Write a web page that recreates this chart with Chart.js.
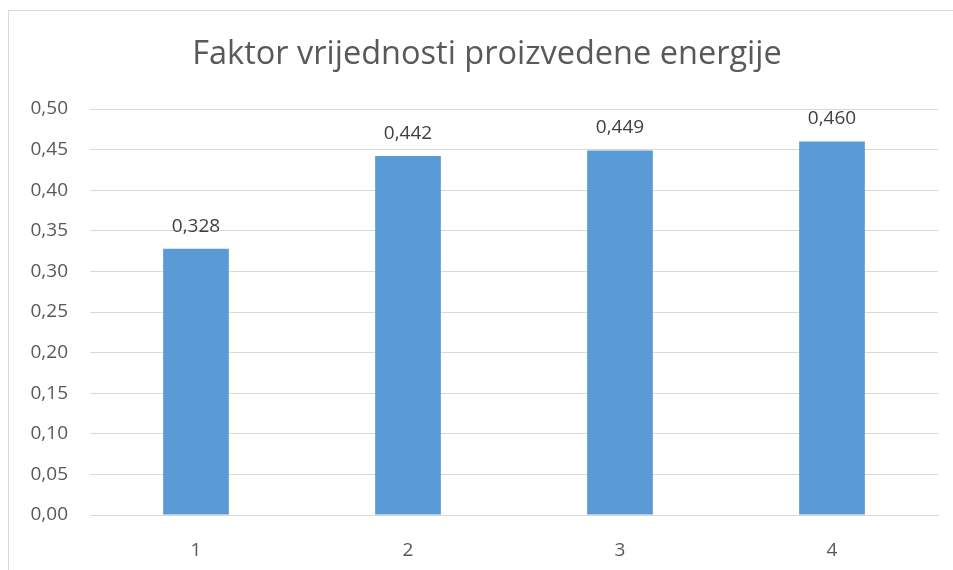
<!DOCTYPE html>
<html>
<head>
<meta charset="utf-8">
<script src="https://cdn.jsdelivr.net/npm/chart.js@4"></script>
<style>
  body { margin: 0; background: #fff; }
  #wrap { width: 953px; height: 570px; position: relative; }
</style>
</head>
<body>
<div id="wrap"><canvas id="myChart" width="953" height="570"></canvas></div>
<script>
// chart data
const categories = ["1", "2", "3", "4"];
const values = [0.328, 0.442, 0.449, 0.460];
const chartTitle = "Faktor vrijednosti proizvedene energije";

const textColor = "#595959";
const fontName = "'Open Sans', 'Noto Sans', sans-serif";

// light grey frame round the chart + the title, centred on the frame
const framePlugin = {
    id: "frame",
    beforeDraw(chart) {
        const ctx = chart.ctx;
        ctx.save();
        ctx.fillStyle = "#fff";
        ctx.fillRect(0, 0, chart.width, chart.height);
        ctx.strokeStyle = "#d9d9d9";
        ctx.lineWidth = 1;
        ctx.strokeRect(8.5, 10.5, chart.width + 20, chart.height + 20);

        ctx.font = "32.5px " + fontName;
        ctx.fillStyle = textColor;
        ctx.textAlign = "center";
        ctx.textBaseline = "middle";
        ctx.fillText(chartTitle, 487, 55);
        ctx.restore();
    }
};

// value above each bar, 3 decimals with comma
const valueLabels = {
    id: "valueLabels",
    afterDatasetsDraw(chart) {
        const ctx = chart.ctx;
        ctx.save();
        ctx.font = "19px " + fontName;
        ctx.fillStyle = "#404040";
        ctx.textAlign = "center";
        ctx.textBaseline = "bottom";
        chart.getDatasetMeta(0).data.forEach((bar, i) => {
            ctx.fillText(values[i].toFixed(3).replace(".", ","), bar.x, bar.y - 13);
        });
        ctx.restore();
    }
};

const myChart = new Chart(document.getElementById("myChart"), {
    type: "bar",
    data: {
        labels: categories,
        datasets: [{
            data: values,
            backgroundColor: "#5b9bd5",
            barPercentage: 0.31,
            categoryPercentage: 1
        }]
    },
    options: {
        responsive: false,
        animation: false,
        layout: { padding: { left: 0, right: 15, top: 109, bottom: 0 } },
        plugins: {
            legend: { display: false },
            tooltip: { enabled: false },
            title: { display: false }
        },
        scales: {
            y: {
                min: 0,
                max: 0.5,
                afterFit(scale) { scale.width = 90; },
                ticks: {
                    stepSize: 0.05,
                    padding: 22,
                    color: textColor,
                    font: { family: fontName, size: 19 },
                    callback: v => v.toFixed(2).replace(".", ",")
                },
                grid: { color: "#d9d9d9", drawTicks: false },
                border: { display: false }
            },
            x: {
                afterFit(scale) { scale.height = 55; },
                ticks: {
                    color: textColor,
                    padding: 16,
                    font: { family: fontName, size: 19 }
                },
                grid: { display: false },
                border: { color: "#d9d9d9" }
            }
        }
    },
    plugins: [framePlugin, valueLabels]
});
</script>
</body>
</html>
